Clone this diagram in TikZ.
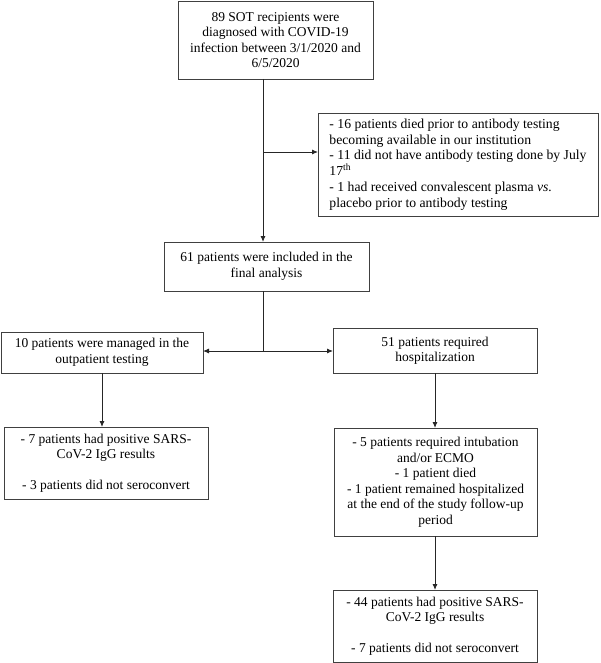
\documentclass[tikz,border=0pt]{standalone}
\usepackage{fontspec}
\setmainfont{Liberation Serif}
\usetikzlibrary{arrows.meta}

\begin{document}
\begin{tikzpicture}[x=1pt,y=-1pt,
  box/.style={draw=black!75,line width=.9pt,align=center,inner sep=4pt,outer sep=0pt,
    font=\fontsize{13.5}{15.5}\selectfont},
  arr/.style={draw=black!85,line width=.9pt,-{Latex[length=6pt,width=5pt]}},
  lne/.style={draw=black!85,line width=.9pt}]
\path[use as bounding box] (0,0) rectangle (600,663);

% top of the flow
\node[box,minimum width=195,minimum height=78] (recip) at (275.5,40)
  {89 SOT recipients were\\diagnosed with COVID-19\\infection between 3/1/2020 and\\6/5/2020};
\node[box,align=left,minimum width=280,minimum height=103,
  font=\fontsize{13.7}{15.7}\selectfont] (excl) at (458,164.5)
  {- 16 patients died prior to antibody testing\\becoming available in our institution\\- 11 did not have antibody testing done by July\\17\textsuperscript{th}\\- 1 had received convalescent plasma \textit{vs.}\\placebo prior to antibody testing};
\node[box,minimum width=205,minimum height=49] (final) at (266.5,266.5)
  {61 patients were included in the\\final analysis};

% the two groups
\node[box,minimum width=202,minimum height=41] (outpt) at (102,352.5)
  {10 patients were managed in the\\outpatient testing};
\node[box,minimum width=204,minimum height=45] (hosp) at (435,350.5)
  {51 patients required\\hospitalization};
\node[box,minimum width=204,minimum height=72] (outres) at (106,463)
  {- 7 patients had positive SARS-\\CoV-2 IgG results\\[15.5pt]- 3 patients did not seroconvert};
\node[box,minimum width=203,minimum height=108] (hospev) at (435.5,482)
  {- 5 patients required intubation\\and/or ECMO\\- 1 patient died\\- 1 patient remained hospitalized\\at the end of the study follow-up\\period};
\node[box,minimum width=204,minimum height=72] (hospres) at (435,626)
  {- 44 patients had positive SARS-\\CoV-2 IgG results\\[15.5pt]- 7 patients did not seroconvert};

\coordinate (excjn) at (263,152);
\coordinate (split) at (263,351);

\draw[arr] (recip.south -| excjn) -- (final.north -| excjn);
\draw[arr] (excjn) -- (excl.west |- excjn);
\draw[lne] (final.south -| split) -- (split);
\draw[arr] (split) -- (outpt.east |- split);
\draw[arr] (split) -- (hosp.west |- split);
\draw[arr] (outpt.south) -- (outpt.south |- outres.north);
\draw[arr] (hosp.south) -- (hosp.south |- hospev.north);
\draw[arr] (hospev.south -| hosp.south) -- (hosp.south |- hospres.north);
\end{tikzpicture}
\end{document}
